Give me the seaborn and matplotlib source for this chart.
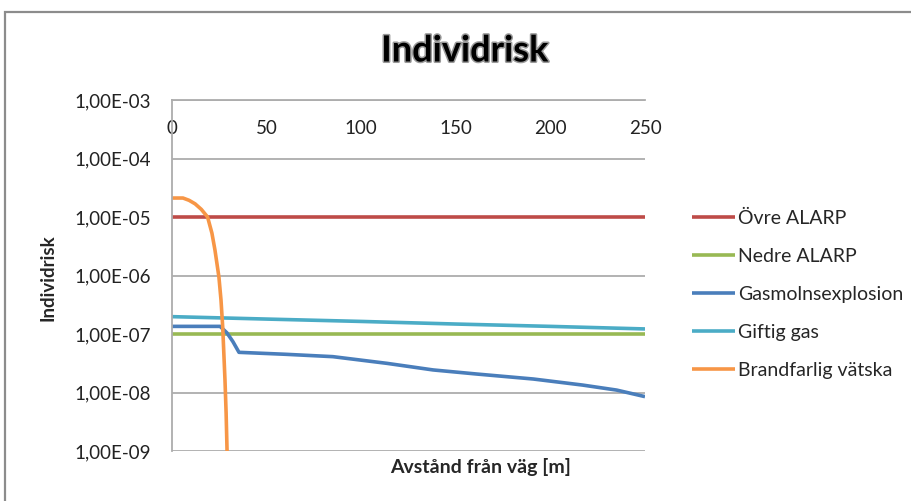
import matplotlib
matplotlib.use("Agg")
import matplotlib.pyplot as plt
import matplotlib.patheffects as pe
from matplotlib.patches import Rectangle
from matplotlib.ticker import FixedLocator, FuncFormatter, NullLocator
import seaborn as sns
import pandas as pd

# ---- data ----
ovre_x = [0, 250]
ovre_y = [1e-5, 1e-5]

nedre_x = [0, 250]
nedre_y = [1e-7, 1e-7]

gas_x = [0, 25.4, 29.0, 32.2, 35.4, 60, 85, 113.6, 138, 161, 191, 217, 235, 250]
gas_y = [1.35e-7, 1.35e-7, 1.05e-7, 7.4e-8, 4.86e-8, 4.5e-8, 4.1e-8, 3.15e-8,
         2.43e-8, 2.07e-8, 1.70e-8, 1.34e-8, 1.10e-8, 8.5e-9]

gift_x = [0, 50, 100, 150, 200, 250]
gift_y = [1.98e-7, 1.80e-7, 1.64e-7, 1.48e-7, 1.35e-7, 1.22e-7]

brand_x = [0, 5.8, 9.0, 12.2, 15.5, 18.8, 21.1, 22.7, 24.8, 25.9, 26.8,
           28.0, 28.6, 29.1, 29.6]
brand_y = [2.11e-5, 2.11e-5, 1.93e-5, 1.68e-5, 1.35e-5, 1.0e-5, 5.3e-6,
           2.73e-6, 9.4e-7, 3.8e-7, 1.32e-7, 1.64e-8, 4.5e-9, 1.0e-9, 4.0e-10]

series_names = ["Övre ALARP", "Nedre ALARP", "Gasmolnsexplosion",
                "Giftig gas", "Brandfarlig vätska"]
series_colors = ["#BE4B48", "#98B954", "#4A7EBB", "#4BACC6", "#F79646"]

y_ticks = [1e-9, 1e-8, 1e-7, 1e-6, 1e-5, 1e-4, 1e-3]
y_tick_labels = ["1,00E-09", "1,00E-08", "1,00E-07", "1,00E-06",
                 "1,00E-05", "1,00E-04", "1,00E-03"]
x_ticks = [0, 50, 100, 150, 200, 250]

frames = []
for name, xs, ys in zip(series_names,
                        [ovre_x, nedre_x, gas_x, gift_x, brand_x],
                        [ovre_y, nedre_y, gas_y, gift_y, brand_y]):
    frames.append(pd.DataFrame({"x": xs, "y": ys, "serie": name}))
df = pd.concat(frames, ignore_index=True)

# ---- figure ----
sns.set_style("white")
plt.rcParams["font.family"] = ["Lato", "DejaVu Sans"]

W, H = 912, 501
fig = plt.figure(figsize=(W / 100, H / 100), dpi=100)
ax = fig.add_axes([172 / W, 1 - 451 / H, (645 - 172) / W, (451 - 100) / H])

sns.lineplot(data=df, x="x", y="y", hue="serie", hue_order=series_names,
             palette=series_colors, linewidth=2.6, ax=ax, sort=False,
             estimator=None, legend=True)
for ln in ax.get_lines():
    ln.set_solid_joinstyle("round")
    ln.set_solid_capstyle("butt")

ax.set_yscale("log")
ax.set_ylim(1e-9, 1e-3)
ax.set_xlim(0, 250)
ax.yaxis.set_major_locator(FixedLocator(y_ticks))
ax.yaxis.set_minor_locator(NullLocator())
ax.yaxis.set_major_formatter(FuncFormatter(
    lambda v, p: y_tick_labels[y_ticks.index(min(y_ticks, key=lambda t: abs(t / v - 1)))]))
ax.set_xticks(x_ticks)
ax.set_xticklabels([str(t) for t in x_ticks])

for t in y_ticks:
    ax.axhline(t, color="#ADADAD", linewidth=1.3, zorder=0)

for s in ["right", "bottom"]:
    ax.spines[s].set_visible(False)
ax.spines["left"].set_color("#ADADAD")
ax.spines["left"].set_linewidth(1.3)
ax.spines["top"].set_color("#ADADAD")
ax.spines["top"].set_linewidth(1.3)

ax.tick_params(axis="y", length=0, pad=15, labelsize=13.5, labelcolor="#222222")
ax.tick_params(axis="x", top=True, labeltop=True, bottom=False,
               labelbottom=False, length=0, pad=-26.5, labelsize=13.5,
               labelcolor="#222222")
ax.set_xlabel("")
ax.set_ylabel("")

handles, labels = ax.get_legend_handles_labels()
ax.legend_.remove()
leg = fig.legend(handles, labels, loc="upper left",
                 bbox_to_anchor=(684 / W, 1 - 202 / H), frameon=False,
                 fontsize=14, handlelength=2.2, handletextpad=0.2,
                 labelspacing=1.08, borderaxespad=0)
for line in leg.get_lines():
    line.set_linewidth(2.6)

fig.text(465 / W, 1 - 51 / H, "Individrisk", ha="center", va="center",
         fontsize=26, fontweight="bold", color="black",
         path_effects=[pe.withStroke(linewidth=2.2, foreground="#9A9A9A")])
fig.text(48 / W, 1 - 278 / H, "Individrisk", rotation=90, ha="center",
         va="center", fontsize=13.5, fontweight="bold")
fig.text(481 / W, 1 - 467 / H, "Avstånd från väg [m]", ha="center",
         va="center", fontsize=14, fontweight="bold")

fig.patches.append(Rectangle((5 / W, -0.2), 1.5, 1.2 - 12 / H,
                             transform=fig.transFigure, fill=False,
                             edgecolor="#8C8C8C", linewidth=1.6))

fig.savefig("out.png", dpi=100)
